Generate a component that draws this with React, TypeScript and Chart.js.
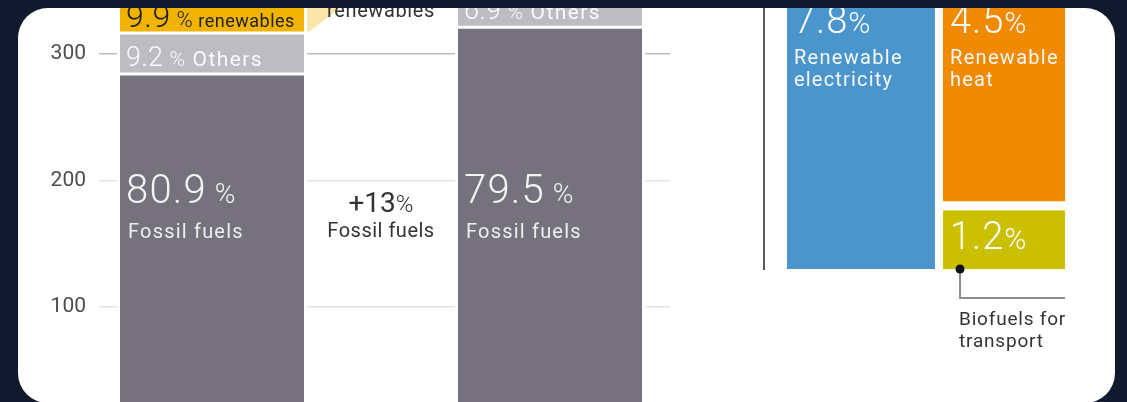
import React, { useEffect, useRef } from "react";
import { Chart, registerables } from "chart.js";

Chart.register(...registerables);

// ---------- data ----------
const YEARS = ["2011", "2021"];
const FOSSIL = [284, 321];
const OTHERS = [32.3, 27.9];
const RENEWABLES = [34.7, 54.5];
const FOSSIL_SHARE = ["80.9", "79.5"];
const OTHERS_SHARE = ["9.2", "6.9"];
const RENEWABLE_SHARE = ["9.9", "13.5"];
const Y_MAX = 500;
const Y_STEP = 100;

const BREAKDOWN_NAMES = [
  ["Renewable", "electricity"],
  ["Renewable", "heat"],
  ["Biofuels for", "transport"],
];
const BREAKDOWN_SHARE = ["7.8", "4.5", "1.2"];
const BREAKDOWN_VALUES = [7.8, 4.5, 1.2];

// ---------- styles ----------
const NAVY = "#111a2d";
const FOSSIL_C = "#75727d";
const OTHERS_C = "#bdbcc1";
const REN_C = "#f0b400";
const CONNECTOR_C = "#fce5aa";
const BLUE = "#4a96cc";
const ORANGE = "#f08a00";
const OLIVE = "#cac000";
const FONT = "Roboto, 'Noto Sans', 'DejaVu Sans', sans-serif";
const light = (s: number) => `300 ${s}px ${FONT}`;
const reg = (s: number) => `400 ${s}px ${FONT}`;

type Run = [string, string, string, number?];
function drawRuns(ctx: CanvasRenderingContext2D, x: number, y: number, runs: Run[], center = false) {
  const c2 = ctx as any;
  let total = 0;
  for (const [t, f, , sp] of runs) {
    ctx.font = f;
    c2.letterSpacing = `${sp || 0}px`;
    total += ctx.measureText(t).width;
  }
  let cx = center ? x - total / 2 : x;
  for (const [t, f, c, sp] of runs) {
    ctx.font = f;
    c2.letterSpacing = `${sp || 0}px`;
    ctx.fillStyle = c;
    ctx.fillText(t, cx, y);
    cx += ctx.measureText(t).width;
  }
  c2.letterSpacing = "0px";
}

const leftPlugin = {
  id: "leftLabels",
  beforeDatasetsDraw(chart: any) {
    const ctx = chart.ctx as CanvasRenderingContext2D;
    const r = chart.getDatasetMeta(2).data;
    const x1 = r[0].x + r[0].width / 2;
    const x2 = r[1].x - r[1].width / 2;
    ctx.save();
    ctx.fillStyle = CONNECTOR_C;
    ctx.beginPath();
    ctx.moveTo(x1, r[0].y);
    ctx.lineTo(x2, r[1].y);
    ctx.lineTo(x1, r[0].base);
    ctx.closePath();
    ctx.fill();
    ctx.restore();
  },
  afterDatasetsDraw(chart: any) {
    const ctx = chart.ctx as CanvasRenderingContext2D;
    const yS = chart.scales.y;
    const f = chart.getDatasetMeta(0).data;
    const o = chart.getDatasetMeta(1).data;
    const r = chart.getDatasetMeta(2).data;
    ctx.save();
    ctx.textAlign = "left";
    ctx.textBaseline = "alphabetic";
    const anchor = yS.getPixelForValue(200);
    for (let i = 0; i < YEARS.length; i++) {
      const lx = f[i].x - f[i].width / 2 + 3 + 6;
      drawRuns(ctx, lx, anchor + 23, [
        [FOSSIL_SHARE[i], light(40), "#f4f4f4", 1.2],
        [" %", light(28), "#f4f4f4", 1],
      ]);
      drawRuns(ctx, lx + 2, anchor + 58, [["Fossil fuels", reg(20), "#eeeeee", 1.2]]);
      drawRuns(ctx, lx, o[i].base - 8, [
        [OTHERS_SHARE[i], light(27), "#fafafa", 0.3],
        [" %", light(21), "#fafafa", 1],
        [" Others", reg(21), "#fafafa", 1.4],
      ]);
      drawRuns(ctx, lx, r[i].base - 6, [
        [RENEWABLE_SHARE[i], light(32), "#222", 0.5],
        [" %", light(22), "#222", 0.5],
        [" renewables", reg(18), "#222", 0.5],
      ]);
    }
    const mid = (f[0].x + f[0].width / 2 + f[1].x - f[1].width / 2) / 2;
    const fg = Math.round(((FOSSIL[1] - FOSSIL[0]) / FOSSIL[0]) * 100);
    drawRuns(ctx, mid, anchor + 32, [["+" + fg, reg(28), "#333"], ["%", light(24), "#333"]], true);
    drawRuns(ctx, mid, anchor + 57, [["Fossil fuels", reg(20), "#333", 0.5]], true);
    const rg = Math.round(((RENEWABLES[1] - RENEWABLES[0]) / RENEWABLES[0]) * 100);
    const rb = r[0].base - 16;
    drawRuns(ctx, mid, rb - 25, [["+" + rg, reg(28), "#333"], ["%", light(24), "#333"]], true);
    drawRuns(ctx, mid, rb, [["renewables", reg(20), "#333", 0.6]], true);
    ctx.restore();
  },
};

const rightPlugin = {
  id: "rightLabels",
  afterDatasetsDraw(chart: any) {
    const ctx = chart.ctx as CanvasRenderingContext2D;
    ctx.save();
    ctx.textAlign = "left";
    ctx.textBaseline = "alphabetic";
    // dataset order: 0 transport, 1 heat, 2 electricity
    const els = [chart.getDatasetMeta(2).data[0], chart.getDatasetMeta(1).data[0], chart.getDatasetMeta(0).data[0]];
    const tops = [4, 4, 0];
    for (let k = 0; k < 3; k++) {
      const e = els[k];
      const vTop = e.y + tops[k];
      const lx = e.x - e.width / 2 + 4 + 7;
      drawRuns(ctx, lx, vTop + 39, [
        [BREAKDOWN_SHARE[k], light(38), "#fbfbfb", 1],
        ["%", light(30), "#fbfbfb", 0.5],
      ]);
      if (k < 2) {
        drawRuns(ctx, lx, vTop + 70, [[BREAKDOWN_NAMES[k][0], reg(20), "#f6f6f6", 1.3]]);
        drawRuns(ctx, lx, vTop + 92, [[BREAKDOWN_NAMES[k][1], reg(20), "#f6f6f6", 1.2]]);
      }
    }
    // callout for transport
    const t = els[2];
    const tl = t.x - t.width / 2 + 4;
    const tr = t.x + t.width / 2 - 4;
    const dx = tl + 17;
    const by = t.base;
    ctx.strokeStyle = "#8d8d8d";
    ctx.lineWidth = 2;
    ctx.beginPath();
    ctx.moveTo(dx, by);
    ctx.lineTo(dx, by + 29);
    ctx.lineTo(tr, by + 29);
    ctx.stroke();
    ctx.fillStyle = "#111";
    ctx.beginPath();
    ctx.arc(dx, by, 4.5, 0, Math.PI * 2);
    ctx.fill();
    drawRuns(ctx, dx - 1, by + 56, [[BREAKDOWN_NAMES[2][0], reg(19), "#333", 0.8]]);
    drawRuns(ctx, dx - 1, by + 78, [[BREAKDOWN_NAMES[2][1], reg(19), "#333", 0.8]]);
    ctx.restore();
  },
};

export default function App() {
  const leftRef = useRef<HTMLCanvasElement>(null);
  const rightRef = useRef<HTMLCanvasElement>(null);

  useEffect(() => {
    const leftBorder = { top: 1.5, bottom: 1.5, left: 3, right: 3 };
    const mk = (label: string, vals: number[], color: string) => ({
      label,
      data: vals.map((v, i) => ({ x: i, y: v })),
      backgroundColor: color,
      borderColor: "#ffffff",
      borderWidth: leftBorder,
      borderSkipped: false,
      barThickness: 190,
      inflateAmount: 0,
      stack: "s",
    });
    const left = new Chart(leftRef.current!, {
      type: "bar",
      data: {
        datasets: [
          mk("Fossil fuels", FOSSIL, FOSSIL_C),
          mk("Others", OTHERS, OTHERS_C),
          mk("Renewables", RENEWABLES, REN_C),
        ] as any,
      },
      options: {
        animation: false,
        responsive: false,
        maintainAspectRatio: false,
        layout: { padding: { top: 20, bottom: 20, left: 0, right: 0 } },
        plugins: { legend: { display: false }, tooltip: { enabled: false } },
        scales: {
          x: {
            type: "linear",
            display: false,
            offset: false,
            stacked: true,
            min: -0.3343,
            max: 1.355,
          },
          y: {
            stacked: true,
            min: 0,
            max: Y_MAX,
            border: { display: false },
            grid: {
              drawTicks: false,
              lineWidth: 1.5,
              color: (c: any) => (c.tick && c.tick.value === 300 ? "#bdbdbd" : "#e3e3e3"),
            },
            ticks: {
              stepSize: Y_STEP,
              padding: 13,
              color: "#4d4d4d",
              font: { family: FONT, size: 21 },
            },
            afterFit: (s: any) => {
              s.width = 80;
            },
          },
        },
      } as any,
      plugins: [leftPlugin],
    });

    const rb = (label: string, y: number, color: string, bw: any, thick: number, x: number) => ({
      label,
      data: [{ x, y }],
      backgroundColor: color,
      borderColor: "#ffffff",
      borderWidth: bw,
      borderSkipped: false,
      barThickness: thick,
      inflateAmount: 0,
      stack: "s",
    });
    const column = BREAKDOWN_VALUES[1] + BREAKDOWN_VALUES[2];
    const right = new Chart(rightRef.current!, {
      type: "bar",
      data: {
        datasets: [
          rb("Biofuels for transport", BREAKDOWN_VALUES[2], OLIVE, { top: 0, bottom: 0, left: 4, right: 4 }, 130, 1),
          rb("Renewable heat", BREAKDOWN_VALUES[1], ORANGE, { top: 4, bottom: 9, left: 4, right: 4 }, 130, 1),
          // treemap column: electricity block spans the full column height
          rb("Renewable electricity", column, BLUE, { top: 4, bottom: 0, left: 4, right: 4 }, 156, 0),
        ] as any,
      },
      options: {
        animation: false,
        responsive: false,
        maintainAspectRatio: false,
        layout: { padding: { top: 0, bottom: 100, left: 10, right: 10 } },
        plugins: { legend: { display: false }, tooltip: { enabled: false } },
        scales: {
          x: { type: "linear", display: false, offset: false, stacked: true, min: -0.678, max: 1.601 },
          y: {
            stacked: true,
            min: 0,
            max: 8,
            border: { display: true, color: "#5c5c5c", width: 2 },
            grid: { display: false, drawTicks: false },
            ticks: { display: false },
            afterFit: (s: any) => {
              s.width = 0;
            },
          },
        },
      } as any,
      plugins: [rightPlugin],
    });

    return () => {
      left.destroy();
      right.destroy();
    };
  }, []);

  return (
    <div
      style={{
        position: "fixed",
        left: 0,
        top: 0,
        width: 1127,
        height: 402,
        overflow: "hidden",
        background: NAVY,
      }}
    >
      <div
        style={{
          position: "absolute",
          left: 18,
          top: 8,
          width: 1097,
          height: 395,
          borderRadius: 30,
          overflow: "hidden",
          background: "#ffffff",
        }}
      >
        <canvas
          ref={leftRef}
          width={651}
          height={684}
          style={{ position: "absolute", left: 1, top: -233, width: 651, height: 684 }}
        />
        <canvas
          ref={rightRef}
          width={346}
          height={492}
          style={{ position: "absolute", left: 736, top: -131, width: 346, height: 492 }}
        />
      </div>
    </div>
  );
}
